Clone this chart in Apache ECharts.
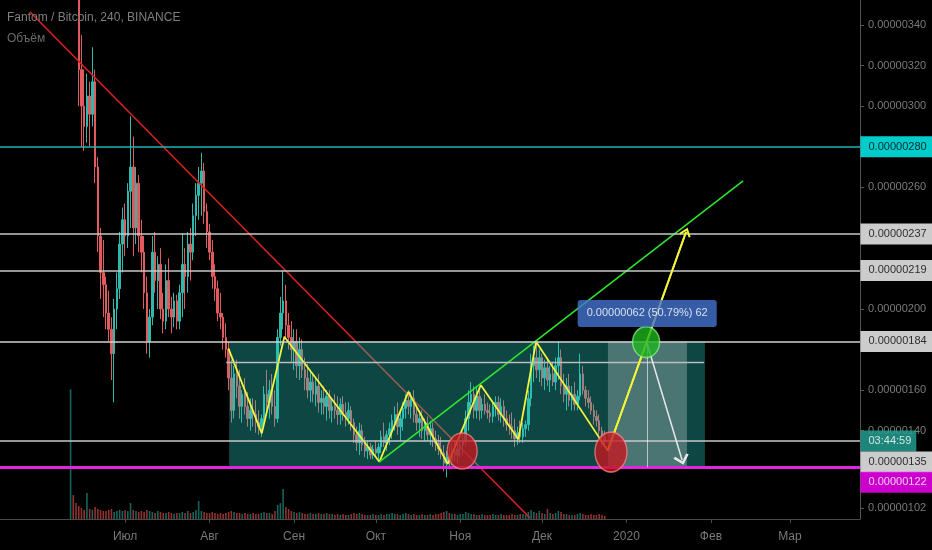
<!DOCTYPE html>
<html><head><meta charset="utf-8">
<script src="https://cdn.jsdelivr.net/npm/echarts@6/dist/echarts.min.js"></script>
<style>html,body{margin:0;padding:0;background:#000;}#c{width:932px;height:550px;}</style>
</head><body><div id="c"></div>
<script>
// Daily candles, x = days since 2019-07-01, prices in satoshi (1e-8 BTC)
const startDay = -20; // 2019-06-11
const opens = [380,400,370,362,318,300,290,305,296,
312,270,236,218,212,198,190,178,200,210,232,
244,236,258,270,240,262,236,228,208,184,
196,228,214,222,200,194,214,200,196,204,
194,208,222,216,232,228,246,256,262,268,
248,238,228,216,210,198,196,186,180,166,
150,168,162,152,158,152,146,150,148,144,
142,146,158,154,160,152,146,186,198,204,
192,186,180,184,172,180,170,166,160,164,
158,162,154,156,152,157,150,152,150,148,
153,149,146,150,144,138,134,140,133,130,
132,128,131,129,132,137,134,138,141,145,
148,142,146,151,155,152,156,148,144,146,
140,143,138,141,136,134,131,129,124,127,
125,130,128,131,133,135,146,154,158,150,
157,150,153,150,149,147,152,154,148,152,
146,143,142,140,136,139,137,141,143,156,
172,176,170,176,166,171,165,168,164,172,
176,162,158,162,155,158,153,157,168,160,
156,154,150,147,145,140,137];
const highs = [450,405,385,370,335,318,316,312,329,
318,275,240,234,216,209,196,205,218,238,250,
252,262,295,285,270,266,244,236,216,200,
236,238,226,230,208,222,225,206,208,207,
212,237,230,238,240,252,262,270,277,272,
252,242,234,222,214,208,198,193,184,175,
172,175,170,160,166,159,156,156,155,150,
148,162,170,165,168,160,190,206,219,212,
198,194,190,190,186,185,176,173,170,168,
166,168,160,162,160,160,156,158,157,156,
157,154,154,152,146,142,144,143,137,135,
134,133,135,134,140,144,140,144,148,152,
154,150,154,158,160,159,160,152,150,150,
146,147,145,144,140,138,137,133,130,132,
134,135,134,136,138,150,160,164,162,162,
160,156,158,154,153,154,157,157,156,155,
150,148,149,146,142,145,144,145,160,178,
182,183,180,178,175,176,172,174,176,184,
180,168,166,168,162,164,160,178,172,162,
160,157,153,150,148,142,140];
const lows = [365,358,355,300,280,278,282,280,290,
262,228,205,196,190,184,165,154,190,205,218,
226,230,240,226,232,228,218,200,178,176,
192,208,200,195,188,190,196,188,191,190,
190,196,200,208,214,224,236,244,246,242,
230,224,210,204,194,190,180,176,160,144,
146,156,146,144,148,142,140,142,139,138,
137,142,150,146,148,142,144,182,190,186,
180,174,170,166,165,166,160,156,154,154,
152,149,148,148,145,146,144,146,143,143,
145,142,143,140,134,130,128,130,127,126,
126,126,127,126,129,132,130,133,136,140,
138,135,140,146,148,146,144,140,137,136,
135,135,133,132,130,128,126,120,117,121,
123,125,124,127,128,133,140,148,146,146,
145,146,148,146,144,144,147,145,144,142,
140,138,136,132,133,134,134,137,140,152,
164,166,164,162,160,162,159,162,160,165,
158,154,150,152,150,150,150,155,158,152,
151,148,143,142,138,132,133];
const closes = [400,370,362,318,300,290,305,296,312,
270,236,218,212,198,190,178,200,210,232,244,
236,258,270,240,262,236,228,208,184,196,
228,214,222,200,194,214,200,196,204,194,
208,222,216,232,228,246,256,262,268,248,
238,228,216,210,198,196,186,180,166,150,
168,162,152,158,152,146,150,148,144,142,
146,158,154,160,152,146,186,198,204,192,
186,180,184,172,180,170,166,160,164,158,
162,154,156,152,157,150,152,150,148,153,
149,146,150,144,138,134,140,133,130,132,
128,131,129,132,137,134,138,141,145,148,
142,146,151,155,152,156,148,144,146,140,
143,138,141,136,134,131,129,124,127,125,
130,128,131,133,135,146,154,158,150,157,
150,153,150,149,147,152,154,148,152,146,
143,142,140,136,139,137,141,143,156,172,
176,170,176,166,171,165,168,164,172,176,
162,158,162,155,158,153,157,168,160,156,
154,150,147,145,140,137,135];
const volumes = [130,24,16,13,11,9,26,10,9,
12,10,9,8,8,9,10,7,8,9,8,
9,8,16,9,8,7,8,7,9,8,
7,6,8,7,6,6,7,6,5,6,
6,7,6,8,6,7,9,18,8,7,
6,6,7,6,5,6,5,6,7,8,
7,6,6,5,6,5,5,6,5,5,
6,7,6,6,5,8,14,16,30,12,
10,8,7,6,7,6,5,5,6,5,
5,6,5,5,6,5,5,4,5,4,
5,4,4,5,6,5,6,5,4,4,
4,5,4,4,5,4,5,5,6,5,
5,4,5,6,5,4,5,4,4,5,
4,4,5,4,5,5,6,7,8,6,
5,5,4,5,5,7,6,5,5,4,
4,5,4,4,4,5,4,4,5,4,
4,4,5,4,4,5,5,4,7,9,
7,6,8,6,5,10,6,5,6,8,
7,5,5,4,4,4,5,6,5,4,
4,5,4,4,5,4,3];

const monthTicks = [0,31,62,92,123,153,184,215,244];
const monthLabels = ['Июл','Авг','Сен','Окт','Ноя','Дек','2020','Фев','Мар'];
const priceTicks = [340,320,300,260,200,160,140,102];

// Price levels (satoshi)
const levelCyan = 280, level237 = 237, level219 = 219, levelTop = 184, levelNow = 135, levelPink = 122, levelMid = 174;
const countdownText = '03:44:59';
const measureText = '0.00000062 (50.79%) 62';

// Drawing anchors [day, price]
const redTrend = [[-34.86, 346.4], [148.6, 97.0]];
const zigzag = [[37.91,180.6],[50.17,138.7],[58.46,186.3],[93.32,124.7],[103.96,159.2],[118.42,123.6],[130.53,162.5],[144.33,135.8],[150.83,183.9],[177.14,130.2],[205.87,238.0]];
const greenTrend = [[93.32,124.7],[226.8,263.1]];
const whiteArrow = [[191.4,183.7],[204.4,125.6]];
const rangeBox = [38.2, 212.8];      // x extent of teal box (price 122..184)
const measureBox = [177.2, 206.2];   // x extent of light box
const midLineX = [37.1, 212.5];
const measureX = 191.6;
const redCircles = [[123.7,130.0],[178.3,129.5]];
const greenCircle = [191.2,183.7];

const XMIN = -45.9, XMAX = 269.7, YMIN = 96.5, YMAX = 352.3;
const FONT = '"Liberation Sans", Arial, sans-serif';
const fmt = v => (v / 1e8).toFixed(8);
const chevron = 'path://M5,0L10,7L8.6,8.2L5,3L1.4,8.2L0,7Z';

const candles = opens.map((o, i) => [startDay + i, o, closes[i], lows[i], highs[i]]);
const vol = volumes.map((v, i) => ({
  value: [startDay + i, v],
  itemStyle: { color: closes[i] >= opens[i] ? 'rgba(38,166,154,0.6)' : 'rgba(239,83,80,0.6)' }
}));

const lvl = (y, color, width) => ({ yAxis: y, lineStyle: { color: color, width: width, type: 'solid', opacity: 1 } });

const tagBase = { show: true, position: 'right', distance: 0, fontSize: 11, lineHeight: 13, padding: [4, 4, 4, 8], width: 60, fontFamily: FONT };
const tag = (y, text, bg, fg, extra) => ({
  value: [XMAX, y],
  label: Object.assign({}, tagBase, { formatter: text, backgroundColor: bg, color: fg }, extra || {})
});

const option = {
  backgroundColor: '#000000',
  animation: false,
  textStyle: { fontFamily: FONT },
  title: [
    { text: 'Fantom / Bitcoin, 240, BINANCE', left: 7, top: 12, padding: 0, textStyle: { color: '#7f7f7f', fontSize: 12, fontWeight: 'normal', fontFamily: FONT } },
    { text: 'Объём', left: 7, top: 33, padding: 0, textStyle: { color: '#6a6a6a', fontSize: 12, fontWeight: 'normal', fontFamily: FONT } }
  ],
  grid: { left: 0, right: 72, top: 0, bottom: 31, containLabel: false },
  xAxis: {
    type: 'value', min: XMIN, max: XMAX,
    splitLine: { show: false },
    axisLine: { show: true, onZero: false, lineStyle: { color: '#4a4a4a', width: 1 } },
    axisTick: { show: true, customValues: monthTicks, length: 4, lineStyle: { color: '#4a4a4a' } },
    axisLabel: { customValues: monthTicks, color: '#787878', fontSize: 12, margin: 12,
      formatter: v => { const i = monthTicks.indexOf(v); return i >= 0 ? monthLabels[i] : ''; } }
  },
  yAxis: [
    {
      type: 'value', position: 'right', min: YMIN, max: YMAX, scale: true,
      splitLine: { show: false },
      axisLine: { show: true, onZero: false, lineStyle: { color: '#555555', width: 1 } },
      axisTick: { show: true, customValues: priceTicks, length: 4, lineStyle: { color: '#555555' } },
      axisLabel: { customValues: priceTicks, color: '#7a7a7a', fontSize: 11, margin: 8, formatter: v => fmt(v) }
    },
    { type: 'value', position: 'right', min: 0, max: 520, show: false, axisLine: { onZero: false } }
  ],
  series: [
    {
      name: 'Объём', type: 'bar', xAxisIndex: 0, yAxisIndex: 1, data: vol, barWidth: 1.6, z: 1, silent: true
    },
    {
      name: 'FTM/BTC', type: 'candlestick', data: candles, encode: { x: 0, y: [1, 2, 3, 4] },
      barWidth: 2, clip: true, z: 2, silent: true,
      itemStyle: { color: '#2fb8ab', color0: '#e05a5e', borderColor: '#2fb8ab', borderColor0: '#e05a5e', borderWidth: 1 },
      markArea: {
        silent: true, z: 3,
        data: [
          [{ coord: [rangeBox[0], levelTop], itemStyle: { color: 'rgba(38,200,190,0.35)' } }, { coord: [rangeBox[1], levelPink] }],
          [{ coord: [measureBox[0], levelTop], itemStyle: { color: 'rgba(255,255,255,0.26)' } }, { coord: [measureBox[1], levelPink] }]
        ]
      },
      markLine: {
        silent: true, z: 5, symbol: ['none', 'none'], label: { show: false }, animation: false,
        data: [
          lvl(levelCyan, '#1fb5b5', 1.5),
          lvl(level237, '#c8c8c8', 1.5),
          lvl(level219, '#c8c8c8', 1.5),
          lvl(levelTop, '#d0d0d0', 1.5),
          lvl(levelNow, '#c8c8c8', 1.5),
          lvl(levelPink, '#e024e0', 3),
          [{ coord: [midLineX[0], levelMid], lineStyle: { color: '#bdbdbd', width: 1.3, type: 'solid' } }, { coord: [midLineX[1], levelMid] }],
          [{ coord: [measureX, levelTop], lineStyle: { color: 'rgba(255,255,255,0.6)', width: 1, type: 'solid' } }, { coord: [measureX, levelPink] }],
          [{ coord: zigzag[9], lineStyle: { color: '#f4f43a', width: 1.8, type: 'solid' } }, { coord: zigzag[10], symbol: chevron, symbolSize: [12, 9] }],
          [{ coord: whiteArrow[0], lineStyle: { color: '#e8e8e8', width: 1.5, type: 'solid' } }, { coord: whiteArrow[1], symbol: chevron, symbolSize: [16, 10] }]
        ]
      }
    },
    {
      name: 'red', type: 'line', data: redTrend, showSymbol: false, symbol: 'none', z: 2.5, silent: true,
      lineStyle: { color: '#d92121', width: 1.6 }
    },
    {
      name: 'zigzag', type: 'line', data: zigzag, showSymbol: false, symbol: 'none', z: 4, silent: true,
      lineStyle: { color: '#f4f43a', width: 1.8 }
    },
    {
      name: 'green', type: 'line', data: greenTrend, showSymbol: false, symbol: 'none', z: 4, silent: true,
      lineStyle: { color: '#2ee52e', width: 1.6 }
    },
    {
      name: 'circles', type: 'scatter', z: 6, silent: true, clip: false,
      data: [
        { value: redCircles[0], symbolSize: [30, 36], itemStyle: { opacity: 1, color: 'rgba(200,22,32,0.78)', borderColor: 'rgba(255,140,140,0.7)', borderWidth: 1.5 } },
        { value: redCircles[1], symbolSize: [32, 40], itemStyle: { opacity: 1, color: 'rgba(200,22,32,0.78)', borderColor: 'rgba(255,140,140,0.7)', borderWidth: 1.5 } },
        { value: greenCircle, symbolSize: [27, 31], itemStyle: { opacity: 1, color: 'rgba(30,180,30,0.8)', borderColor: 'rgba(150,255,150,0.65)', borderWidth: 1.5 } }
      ]
    },
    {
      name: 'measure', type: 'scatter', z: 8, silent: true, clip: false, symbolSize: 1,
      itemStyle: { color: 'transparent' },
      data: [{ value: [measureX, levelTop], label: { show: true, position: 'top', distance: 14, formatter: measureText,
        backgroundColor: '#4373d0', color: '#ffffff', fontSize: 11, padding: [8, 9, 8, 9], borderRadius: 3, fontFamily: FONT } }]
    },
    {
      name: 'tags', type: 'scatter', z: 10, silent: true, clip: false, symbolSize: 1,
      itemStyle: { color: 'transparent' },
      data: [
        tag(levelCyan, fmt(levelCyan), '#00ffff', '#000000'),
        tag(level237, fmt(level237), '#ffffff', '#000000'),
        tag(level219, fmt(level219), '#ffffff', '#000000'),
        tag(levelTop, fmt(levelTop), '#ffffff', '#000000'),
        tag(levelNow, countdownText, '#26a69a', '#ffffff', { width: null, padding: [4, 5, 4, 8] }),
        tag(levelNow, fmt(levelNow), '#ffffff', '#000000', { offset: [0, 21] }),
        tag(levelPink, fmt(levelPink), '#ff00ff', '#ffffff', { offset: [0, 15] })
      ]
    }
  ]
};
const chart = echarts.init(document.getElementById('c'));
chart.setOption(option);
</script>
</body></html>
